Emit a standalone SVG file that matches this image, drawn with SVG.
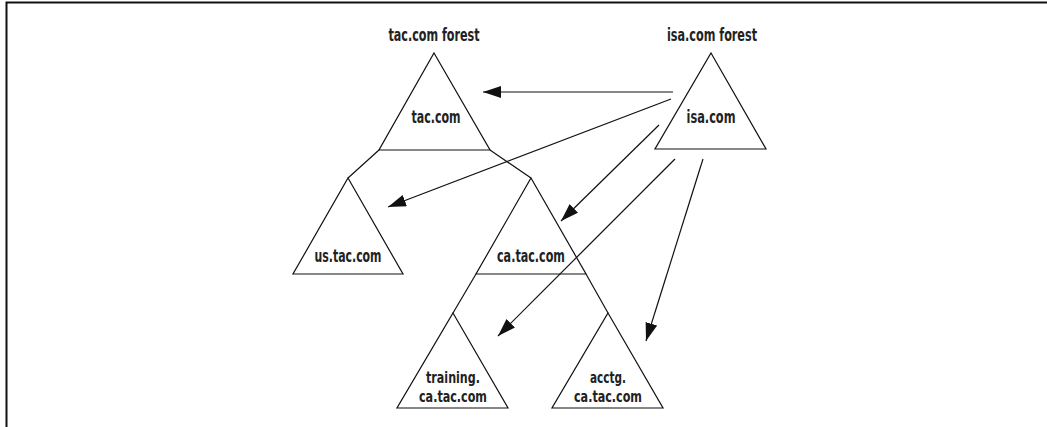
<svg xmlns="http://www.w3.org/2000/svg" width="1047" height="427" viewBox="0 0 1047 427">
<style>
.t{font-family:"DejaVu Sans Condensed","Liberation Sans",sans-serif;font-stretch:condensed;font-size:18px;font-weight:bold;fill:#222;text-anchor:middle}
.m{font-size:16.5px}
.s{fill:none;stroke:#111;stroke-width:1.2}
.c{fill:none;stroke:#111;stroke-width:1.2}
</style>
<defs>
<marker id="ah" markerUnits="userSpaceOnUse" markerWidth="20" markerHeight="14" refX="18" refY="6" orient="auto">
<path d="M0,0 L18,6 L0,12 Z" fill="#111"/>
</marker>
</defs>
<rect x="0" y="0" width="1047" height="427" fill="#fff"/>
<path d="M6.5,427 L6.5,2.5 L1047,2.5" fill="none" stroke="#111" stroke-width="2"/>
<g id="tac">
<text class="t" x="434" y="41" textLength="91" lengthAdjust="spacingAndGlyphs">tac.com forest</text>
<polygon class="s" points="434,53 490,150 379,150"/>
<text class="t" x="436" y="123" textLength="49" lengthAdjust="spacingAndGlyphs">tac.com</text>
<path class="s" d="M379,150 L348,178 M490,150 L531,178"/>
</g>
<g id="isa">
<text class="t" x="712" y="41" textLength="90" lengthAdjust="spacingAndGlyphs">isa.com forest</text>
<polygon class="s" points="711,53 766,149 655,149"/>
<text class="t" x="711" y="123" textLength="49" lengthAdjust="spacingAndGlyphs">isa.com</text>
</g>
<g id="us">
<polygon class="s" points="348,178 403,274 293,274"/>
<text class="t" x="348" y="262" textLength="67" lengthAdjust="spacingAndGlyphs">us.tac.com</text>
</g>
<g id="ca">
<polygon class="s" points="531,178 586,274 476,274"/>
<path class="s" d="M476,274 L453,313 M586,274 L608,313"/>
<text class="t" x="531" y="262" textLength="68" lengthAdjust="spacingAndGlyphs">ca.tac.com</text>
</g>
<g id="training">
<polygon class="s" points="453,313 508,408 397,408"/>
<text class="t m" x="453" y="383" textLength="54" lengthAdjust="spacingAndGlyphs">training.</text>
<text class="t m" x="453" y="402" textLength="68" lengthAdjust="spacingAndGlyphs">ca.tac.com</text>
</g>
<g id="acctg">
<polygon class="s" points="608,313 663,408 552,408"/>
<text class="t m" x="608" y="383" textLength="36" lengthAdjust="spacingAndGlyphs">acctg.</text>
<text class="t m" x="608" y="402" textLength="68" lengthAdjust="spacingAndGlyphs">ca.tac.com</text>
</g>
<g id="connectors">
<line class="c" x1="673" y1="92" x2="483" y2="92" marker-end="url(#ah)"/>
<line class="c" x1="671" y1="99" x2="388" y2="207" marker-end="url(#ah)"/>
<line class="c" x1="659" y1="125" x2="561" y2="221" marker-end="url(#ah)"/>
<line class="c" x1="675" y1="159" x2="498" y2="336" marker-end="url(#ah)"/>
<line class="c" x1="703" y1="159" x2="646" y2="341" marker-end="url(#ah)"/>
</g>
</svg>
